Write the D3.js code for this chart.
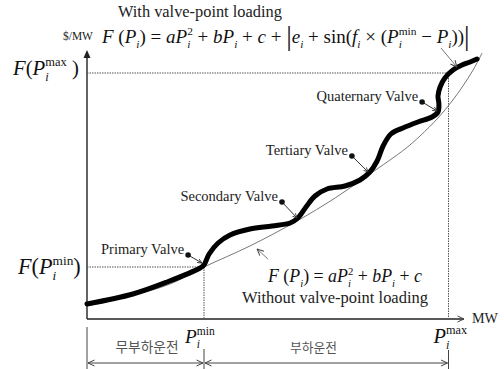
<!DOCTYPE html>
<html><head><meta charset="utf-8">
<script src="https://cdn.jsdelivr.net/npm/d3@7"></script>
<style>body{margin:0;background:#fff}svg{display:block}</style>
</head><body>
<svg id="c" width="504" height="369"></svg>
<script>
// ---------- data (arbitrary units) ----------
const thinCurve = [[0,6.5],[14.3,11.5],[27.7,17.5],[39,26],[54.3,36.5],[70,49],[82.7,60.5],[94.3,72.5],[106,85],[111,91.5],[117,100.5],[121.7,109],[125.3,116.5],[128.7,124.5],[131.7,133]];
const valveCurve = [[0,7.5],[15.3,12.5],[26.7,18.5],[37.7,25.5],[39,27],[40.7,32.5],[43.7,38],[47.7,42],[54.3,45],[61.7,46.5],[67.7,48],[70.3,50.5],[73,56],[76,61.5],[80,65],[86,66.5],[91,69.5],[94.3,73.5],[96.7,79],[98.7,86.5],[101.3,92.5],[105.3,95.5],[110.3,98.5],[115,101],[117,103.5],[117.3,107.5],[117,111.5],[117.7,116],[119.3,120.5],[122,124.5],[125,127],[127.7,128.5],[130,130]];
const Pmin = 39, Pmax = 120.5, FPmin = 26, FPmax = 123;
const valveNames = ["Primary Valve","Secondary Valve","Tertiary Valve","Quaternary Valve"];
const valveAt = [[38.3,28],[70,50.5],[93.7,73.5],[116.7,104]];
const valveBullet = [[33.7,32],[65,58.5],[88.3,81.5],[111.7,108.5]];
const modeLabels = ["무부하운전","부하운전"];
const titleText = "With valve-point loading";
const noValveText = "Without valve-point loading";
const yUnit = "$/MW", xUnit = "MW";

// ---------- drawing ----------
const SERIF = "'Liberation Serif','Times New Roman',serif";
const svg = d3.select('#c');
const x = d3.scaleLinear().domain([0,125]).range([87,462]);
const y = d3.scaleLinear().domain([0,133]).range([319,53]);

const defs = svg.append('defs');
defs.append('marker').attr('id','open').attr('viewBox','0 0 8 8').attr('refX',7.5).attr('refY',4)
  .attr('markerWidth',8).attr('markerHeight',8).attr('markerUnits','userSpaceOnUse').attr('orient','auto-start-reverse')
  .append('path').attr('d','M1,1 L7.5,4 L1,7').attr('fill','none').attr('stroke','#444').attr('stroke-width',1);
defs.append('marker').attr('id','tiny').attr('viewBox','0 0 6 6').attr('refX',5.5).attr('refY',3)
  .attr('markerWidth',5).attr('markerHeight',5).attr('markerUnits','userSpaceOnUse').attr('orient','auto')
  .append('path').attr('d','M0,0.5 L5.5,3 L0,5.5').attr('fill','none').attr('stroke','#333').attr('stroke-width',1);

// axes
const x0 = x(0), y0 = y(0);
svg.append('line').attr('x1',x0).attr('y1',y0).attr('x2',x0).attr('y2',y(133)+4).attr('stroke','#222').attr('stroke-width',1.4);
svg.append('path').attr('d',`M${x0},${y(133)-3} L${x0-3.5},${y(133)+5} L${x0+3.5},${y(133)+5} Z`).attr('fill','#222');
svg.append('line').attr('x1',x0).attr('y1',y0).attr('x2',x(125)+2).attr('y2',y0).attr('stroke','#222').attr('stroke-width',1.4)
  .attr('marker-end','url(#open)');

// reference dotted lines
const dot = {stroke:'#555','stroke-width':1,'stroke-dasharray':'1.5,1'};
function dl(a,b,c,d){const l=svg.append('line').attr('x1',a).attr('y1',b).attr('x2',c).attr('y2',d);Object.entries(dot).forEach(([k,v])=>l.attr(k,v));}
dl(x0, y(FPmax), x(Pmax)+3, y(FPmax));
dl(x(Pmax), y(FPmax), x(Pmax), y0);
dl(x0, y(FPmin), x(Pmin), y(FPmin));
dl(x(Pmin), y(FPmin), x(Pmin), y0);

// curves
const line = d3.line().x(d=>x(d[0])).y(d=>y(d[1]));
svg.append('path').datum(thinCurve).attr('d', line.curve(d3.curveCatmullRom.alpha(0.5))).attr('fill','none').attr('stroke','#777').attr('stroke-width',1);
svg.append('path').datum(valveCurve).attr('d', line.curve(d3.curveCatmullRom.alpha(0.5))).attr('fill','none').attr('stroke','#000').attr('stroke-width',5).attr('stroke-linecap','round').attr('stroke-linejoin','round');

// valve annotations
valveNames.forEach((name,i)=>{
  const [bx,by] = [x(valveBullet[i][0]), y(valveBullet[i][1])];
  const [cx,cy] = [x(valveAt[i][0]), y(valveAt[i][1])];
  svg.append('line').attr('x1',bx).attr('y1',by).attr('x2',cx).attr('y2',cy).attr('stroke','#333').attr('stroke-width',1).attr('marker-end','url(#tiny)');
  svg.append('circle').attr('cx',bx).attr('cy',by).attr('r',2.8).attr('fill','#111');
  svg.append('text').attr('x',bx-4).attr('y',by-1).attr('text-anchor','end').attr('font-family',SERIF).attr('font-size',14.5).attr('fill','#222').text(name);
});

// math text helper
function mathText(parent, px, py, fs, parts, targetW, fill){
  function build(size){
    const t = parent.append('text').attr('x',px).attr('y',py).attr('font-size',size).attr('font-family',SERIF).attr('fill',fill||'#111');
    let cur = 0, lastSubW = 0;
    parts.forEach(([s,f])=>{
      const ts = t.append('tspan').text(s);
      let off = 0, sz = size;
      if (f.includes('b')) { off = size*0.28; sz = size*0.6; }
      if (f.includes('p')) { off = -size*0.42; sz = size*0.6; }
      if (f.includes('B')) { off = size*0.12; sz = size*1.45; }
      ts.attr('font-size', sz);
      if (f.includes('i')) ts.attr('font-style','italic');
      ts.attr('dy', off-cur); cur = off;
      if (f.includes('k')) ts.attr('dx', -lastSubW);
      if (f.includes('b')) lastSubW = ts.node().getComputedTextLength();
    });
    return t;
  }
  let t = build(fs);
  if (targetW) { const w = t.node().getBBox().width; t.remove(); t = build(fs*targetW/w); }
  return t;
}
function plainText(px, py, fs, str, targetW, fill, anchor, family){
  const t = svg.append('text').attr('x',px).attr('y',py).attr('font-size',fs).attr('font-family',family||SERIF).attr('fill',fill||'#111').attr('text-anchor',anchor||'start').text(str);
  if (targetW) { const w = t.node().getComputedTextLength(); t.attr('font-size', fs*targetW/w); }
  return t;
}

const fTop = [['F','i'],[' (',''],['P','i'],['i','ib'],[')',''],[' = ',''],['a','i'],['P','i'],['i','ib'],['2','pk'],[' + ',''],['b','i'],['P','i'],['i','ib'],[' + ',''],['c','i'],[' + ',''],['|','B'],['e','i'],['i','ib'],[' + sin(',''],['f','i'],['i','ib'],[' × (',''],['P','i'],['i','ib'],['min','pk'],[' − ',''],['P','i'],['i','ib'],['))',''],['|','B']];
const fBot = [['F','i'],[' (',''],['P','i'],['i','ib'],[')',''],[' = ',''],['a','i'],['P','i'],['i','ib'],['2','pk'],[' + ',''],['b','i'],['P','i'],['i','ib'],[' + ',''],['c','i']];
const fMax = [['F','i'],['(',''],['P','i'],['i','ib'],['max','pk'],[' )','']];
const fMin = [['F','i'],['(',''],['P','i'],['i','ib'],['min','pk'],[')','']];
const pMinL = [['P','i'],['i','ib'],['min','pk']];
const pMaxL = [['P','i'],['i','ib'],['max','pk']];

plainText(118, 17, 15, titleText, 164, '#222');
plainText(63, 40, 11, yUnit, 30, '#222');
mathText(svg, 102, 43, 18, fTop, 369);
mathText(svg, 268, 282, 18, fBot, 155);
plainText(242, 303, 15.5, noValveText, 186, '#222');
mathText(svg, 13, 75, 18, fMax, 67);
mathText(svg, 18, 274, 18, fMin, 64);
mathText(svg, x(Pmin)-19, 343, 19, pMinL, 31);
mathText(svg, x(Pmax)-15, 343, 19, pMaxL, 35);
plainText(x(125)+10, 323, 12, xUnit, 26, '#222');

// annotation arrows
svg.append('line').attr('x1',x(60.3)).attr('y1',y(30)).attr('x2',x(56.7)).attr('y2',y(35)).attr('stroke','#666').attr('stroke-width',0.9).attr('marker-end','url(#open)');
svg.append('line').attr('x1',x(118)).attr('y1',y(135.5)).attr('x2',x(123.3)).attr('y2',y(126)).attr('stroke','#666').attr('stroke-width',0.9).attr('marker-end','url(#open)');

// operating range brackets
const by = 363;
svg.append('line').attr('x1',x0).attr('y1',y0+8).attr('x2',x0).attr('y2',369).attr('stroke','#444').attr('stroke-width',1);
svg.append('line').attr('x1',x(Pmin)).attr('y1',349).attr('x2',x(Pmin)).attr('y2',369).attr('stroke','#444').attr('stroke-width',1);
svg.append('line').attr('x1',x(Pmax)).attr('y1',350).attr('x2',x(Pmax)).attr('y2',369).attr('stroke','#444').attr('stroke-width',1);
[[0,Pmin],[Pmin,Pmax]].forEach(([a,b])=>{
  svg.append('line').attr('x1',x(a)+1).attr('y1',by).attr('x2',x(b)-1).attr('y2',by).attr('stroke','#444').attr('stroke-width',1)
    .attr('marker-start','url(#open)').attr('marker-end','url(#open)');
});
const KR = "'Noto Sans CJK KR','Noto Sans',sans-serif";
plainText(x(20), 352, 12, modeLabels[0], 63, '#555', 'middle', KR);
plainText(x(75.5), 352, 12, modeLabels[1], 47, '#555', 'middle', KR);
</script>
</body></html>
